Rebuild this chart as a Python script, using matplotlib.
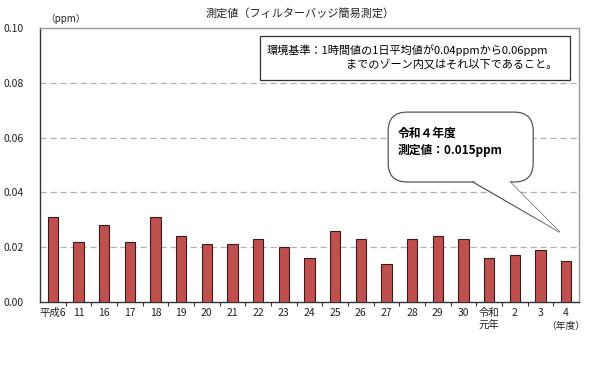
import matplotlib.pyplot as plt
from matplotlib.patches import FancyBboxPatch, Polygon, Rectangle

plt.rcParams['font.family'] = ['Noto Sans CJK JP', 'DejaVu Sans']

labels = ["平成6", "11", "16", "17", "18", "19", "20", "21", "22", "23", "24",
          "25", "26", "27", "28", "29", "30", "令和\n元年", "2", "3", "4"]
values = [0.031, 0.022, 0.028, 0.022, 0.031, 0.024, 0.021, 0.021, 0.023, 0.020, 0.016,
          0.026, 0.023, 0.014, 0.023, 0.024, 0.023, 0.016, 0.017, 0.019, 0.015]
yticks = [0.00, 0.02, 0.04, 0.06, 0.08, 0.10]

fig = plt.figure(figsize=(6, 3.7), dpi=100)
ax = fig.add_axes([40 / 600, 1 - 302 / 370, 539 / 600, 274 / 370])

x = range(len(labels))
ax.bar(x, values, width=0.4, color="#C0504D", edgecolor="#3a1a1a", linewidth=0.8, zorder=3)

ax.set_xlim(-0.5, len(labels) - 0.5)
ax.set_ylim(0, 0.10)
ax.set_yticks(yticks)
ax.set_yticklabels([f"{v:.2f}" for v in yticks], fontsize=7.5, color="#222")
ax.tick_params(axis="y", length=0, pad=12)
ax.set_xticks(list(x))
ax.set_xticklabels(labels, fontsize=7.5, color="#222", linespacing=1.3, va="top")
ax.tick_params(axis="x", which="major", length=0, pad=4)
ax.set_xticks([i - 0.5 for i in range(1, len(labels))], minor=True)
ax.tick_params(axis="x", which="minor", length=3, width=0.8, color="#333", direction="out")

for v in yticks[1:-1]:
    ax.axhline(v, color="#b0b0b0", linestyle=(0, (5, 3)), linewidth=0.9, zorder=1)

ax.spines["left"].set_color("#333")
ax.spines["bottom"].set_color("#333")
ax.spines["top"].set_color("#999")
ax.spines["right"].set_color("#999")
for s in ax.spines.values():
    s.set_linewidth(1.0)

fig.text(0.5, 1 - 13 / 370, "測定値（フィルターバッジ簡易測定）", ha="center", va="center",
         fontsize=8, color="#222")
fig.text(45 / 600, 1 - 19 / 370, "（ppm）", ha="left", va="center", fontsize=7, color="#222")
ax.text(20, -0.0068, "（年度）", ha="center", va="top", fontsize=7, color="#222",
        transform=ax.transData)

# environmental standard box
ax.add_patch(Rectangle((0.408, 0.810), 0.575, 0.161, transform=ax.transAxes,
                       facecolor="white", edgecolor="#333", linewidth=0.9, zorder=5))
ax.text(0.421, 0.918, "環境基準：1時間値の1日平均値が0.04ppmから0.06ppm",
        transform=ax.transAxes, ha="left", va="center", fontsize=8, zorder=6)
ax.text(0.960, 0.866, "までのゾーン内又はそれ以下であること。",
        transform=ax.transAxes, ha="right", va="center", fontsize=8, zorder=6)

# callout
tip = ax.transAxes.inverted().transform(ax.transData.transform((19.75, 0.0255)))
ax.add_patch(FancyBboxPatch((0.646, 0.438), 0.269, 0.255, transform=ax.transAxes,
                            boxstyle="round,pad=0,rounding_size=0.035",
                            mutation_aspect=539 / 274,
                            facecolor="white", edgecolor="#555", linewidth=0.9, zorder=5))
ax.add_patch(Polygon([(0.803, 0.438), tip, (0.872, 0.438)], closed=False,
                     transform=ax.transAxes, facecolor="white", edgecolor="#555",
                     linewidth=0.9, zorder=5, clip_on=False))
ax.add_patch(Polygon([(0.805, 0.442), (0.870, 0.442), tip], closed=True,
                     transform=ax.transAxes, facecolor="white", edgecolor="none",
                     zorder=5.5, clip_on=False))
ax.text(0.664, 0.585, "令和４年度\n測定値：0.015ppm", transform=ax.transAxes,
        ha="left", va="center", fontsize=8.5, fontweight="bold", linespacing=1.45, zorder=6)

fig.savefig("out.png", dpi=100)
